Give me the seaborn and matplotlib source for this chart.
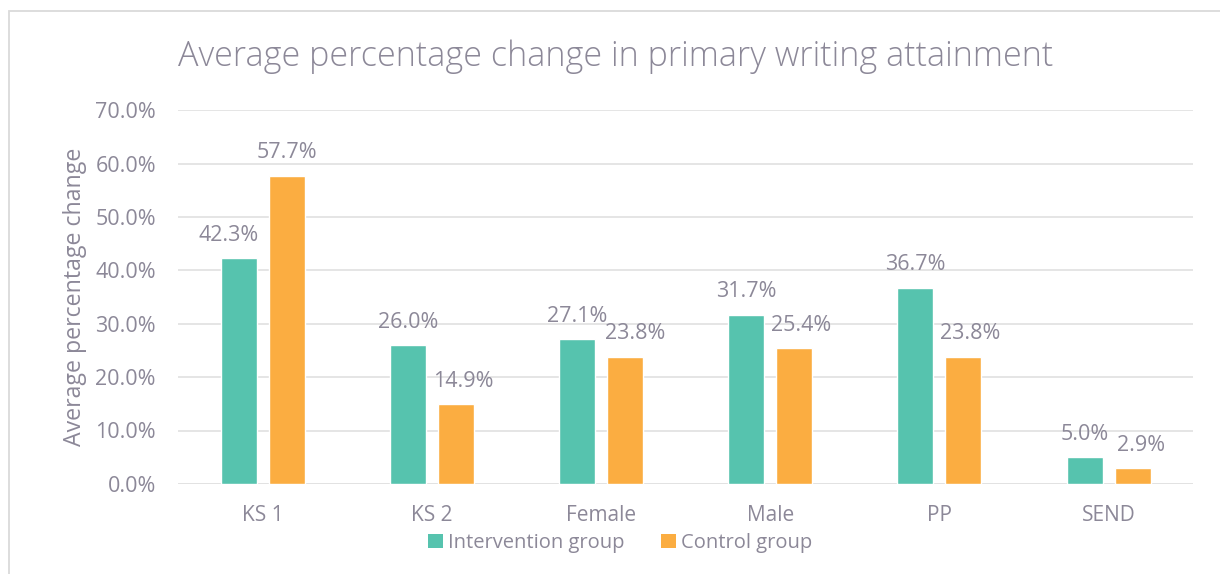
import matplotlib
matplotlib.use("Agg")
import matplotlib.pyplot as plt
import seaborn as sns
import pandas as pd
from matplotlib.patches import Rectangle, Patch

categories = ["KS 1", "KS 2", "Female", "Male", "PP", "SEND"]
intervention = [42.3, 26.0, 27.1, 31.7, 36.7, 5.0]
control = [57.7, 14.9, 23.8, 25.4, 23.8, 2.9]
series_names = ["Intervention group", "Control group"]
yticks = [0, 10, 20, 30, 40, 50, 60, 70]

# horizontal nudges (pixels) of data labels, as placed in the original chart
label_nudge = {
    series_names[0]: [-10, 0, 0, 0, 0, 0],
    series_names[1]: [0, 7, 10, 7, 7, 8],
}

df = pd.DataFrame({
    "category": categories * 2,
    "value": intervention + control,
    "group": [series_names[0]] * len(categories) + [series_names[1]] * len(categories),
})

sns.set_theme(style="white")
plt.rcParams['font.family'] = ['Open Sans', 'DejaVu Sans']

TEXT = "#8C8898"
GRID = "#E3E3E3"
palette = {series_names[0]: "#56C3AE", series_names[1]: "#FBAD41"}

fig = plt.figure(figsize=(12.2, 5.74), dpi=100)
ax = fig.add_axes([0.146, 0.157, 0.832, 0.651])

sns.barplot(data=df, x="category", y="value", hue="group", palette=palette,
            width=0.568, gap=0.25, ax=ax, legend=False, saturation=1)

ax.set_ylim(0, 70)
ax.set_yticks(yticks)
ax.set_yticklabels([f"{t:.1f}%" for t in yticks], color=TEXT, fontsize=15.5)
ax.set_xlim(-0.5, len(categories) - 0.5)
ax.tick_params(axis="x", colors=TEXT, labelsize=15, length=0, pad=15)
ax.tick_params(axis="y", colors=TEXT, length=0, pad=16)
for lbl in ax.get_xticklabels():
    lbl.set_color(TEXT)
ax.set_xlabel("")
ax.set_ylabel("Average percentage change", color=TEXT, fontsize=16.7, labelpad=6)
ax.yaxis.grid(True, color=GRID, linewidth=1.3)
ax.set_axisbelow(True)
for s in ax.spines.values():
    s.set_visible(False)
ax.axhline(0, color="#D9D9D9", linewidth=1.3, zorder=0.5)

for cont, name in zip(ax.containers, series_names):
    for bar, val, dx in zip(cont.patches, cont.datavalues, label_nudge[name]):
        ax.annotate(f"{val:.1f}%", (bar.get_x() + bar.get_width() / 2, bar.get_height()),
                    xytext=(dx, 17.5), textcoords="offset pixels",
                    ha="center", va="baseline", color=TEXT, fontsize=15.5)

fig.text(0.146, 0.902, "Average percentage change in primary writing attainment",
         color=TEXT, fontsize=24.6, fontweight="light", ha="left", va="center")

handles = [Patch(facecolor=palette[n], edgecolor="none") for n in series_names]
fig.legend(handles, series_names, loc="center", bbox_to_anchor=(0.508, 0.054),
           ncol=2, frameon=False, fontsize=14.5, labelcolor=TEXT,
           handlelength=0.75, handleheight=0.75, handletextpad=0.25, columnspacing=1.8)

fig.patches.append(Rectangle((9 / 1220, -0.1), 1.5, 1.1 - 11.5 / 574,
                             transform=fig.transFigure, fill=False,
                             edgecolor="#DADADA", linewidth=1.3))

fig.savefig("out.png", dpi=100, facecolor="white")
